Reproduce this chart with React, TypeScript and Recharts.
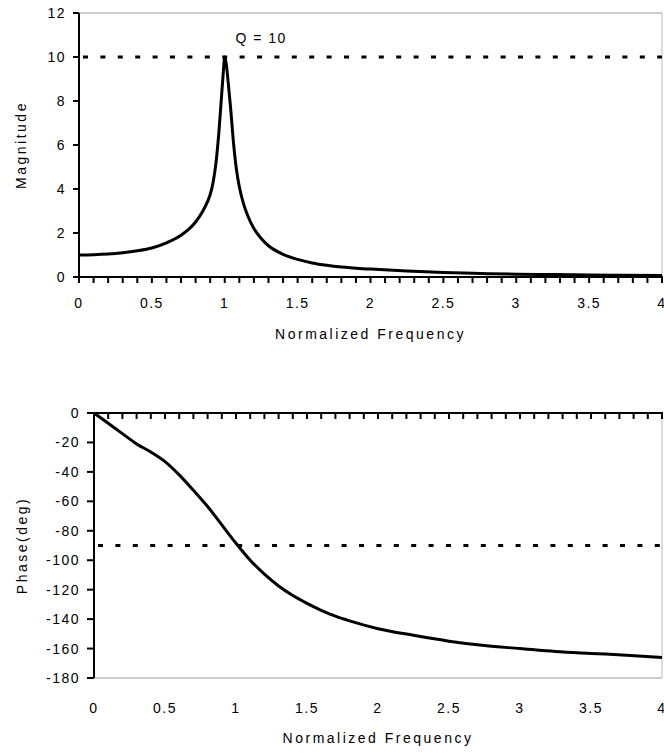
import { LineChart, Line, XAxis, YAxis, ReferenceLine, ReferenceDot } from 'recharts'

const FONT = '"Liberation Sans", Arial, Helvetica, sans-serif'

// magnitude response
const magFreq = [
  0, 0.1, 0.2, 0.3, 0.4, 0.5, 0.6, 0.7, 0.75, 0.8, 0.85, 0.88, 0.9, 0.92, 0.94, 0.96, 0.98, 0.99, 1.0,
  1.01, 1.02, 1.04, 1.06, 1.08, 1.1, 1.13, 1.16, 1.2, 1.25, 1.3, 1.4, 1.5, 1.6, 1.7, 1.8, 2.0, 2.25, 2.5,
  2.75, 3.0, 3.25, 3.5, 3.75, 4.0,
]
const magnitude = [
  1.0, 1.01, 1.04, 1.1, 1.19, 1.32, 1.55, 1.9, 2.15, 2.5, 3.0, 3.4, 3.75, 4.3, 5.2, 6.6, 8.4, 9.3, 10,
  9.7, 9.1, 7.7, 6.1, 4.9, 4.1, 3.3, 2.75, 2.2, 1.75, 1.42, 1.03, 0.8, 0.64, 0.53, 0.45, 0.36, 0.27, 0.2,
  0.16, 0.13, 0.11, 0.09, 0.08, 0.07,
]

// phase response (deg)
const phaseFreq = [
  0, 0.1, 0.2, 0.3, 0.4, 0.5, 0.6, 0.7, 0.8, 0.9, 1.0, 1.1, 1.2, 1.3, 1.4, 1.5, 1.6, 1.7, 1.8, 2.0, 2.25,
  2.5, 2.75, 3.0, 3.25, 3.5, 3.75, 4.0,
]
const phase = [
  0, -7, -14, -21, -26.5, -33, -42, -52.5, -63.5, -76, -88.5, -100, -109.5, -117.5, -124, -129.3, -134,
  -138, -141.2, -146.5, -151, -155, -158, -160, -162, -163.3, -164.5, -166,
]

const magTicks = [0, 2, 4, 6, 8, 10, 12]
const phaseTicks = [-180, -160, -140, -120, -100, -80, -60, -40, -20, 0]
const xLabels = [0, 0.5, 1, 1.5, 2, 2.5, 3, 3.5, 4]
const minorTicks = Array.from({ length: 41 }, (_, i) => i / 10)

const Q_VALUE = 10
const PHASE_REF = -90
const qLabelX = 1.25
const qLabelY = 10.85

// phase plot height in px, used to drop the x labels from the top axis to the bottom
const PHASE_PLOT_H = 265

const magData = magFreq.map((f, i) => ({ f, v: magnitude[i] }))
const phaseData = phaseFreq.map((f, i) => ({ f, v: phase[i] }))

const isLabel = (v: number) => xLabels.includes(v)

const titleStyle = { textAnchor: 'middle', letterSpacing: '2.5px', fill: '#000', fontSize: 14 } as any
const dotted = { stroke: '#000', strokeWidth: 3, strokeDasharray: '5 12.4', strokeDashoffset: 13.4 }

// x ticks: small mark below the axis every 0.1, label every 0.5 (labelGap px under the axis)
function XTick(props: any) {
  const { x, y, payload, labelGap } = props
  const v = payload.value
  return (
    <g>
      <rect x={x - 1} y={y - 1} width={2} height={7} fill="#000" />
      {isLabel(v) && (
        <text x={x} y={y + labelGap} dy="0.71em" textAnchor="middle" fill="#000" fontSize={14}>
          {String(v)}
        </text>
      )}
    </g>
  )
}

function YTick(props: any) {
  const { x, y, payload, len } = props
  return (
    <g>
      <rect x={x - len} y={y - 1} width={len} height={2} fill="#000" />
      <text x={x - len - 7} y={y} dy="0.355em" textAnchor="end" fill="#000" fontSize={14}>
        {String(payload.value)}
      </text>
    </g>
  )
}

export default function App() {
  return (
    <div
      style={{
        position: 'absolute',
        left: 0,
        top: 0,
        width: 664,
        height: 753,
        background: '#fff',
        fontFamily: FONT,
        letterSpacing: '1.5px',
      }}
    >
      <LineChart width={664} height={360} data={magData} margin={{ top: 13, right: 2, bottom: 0, left: 0 }}>
        <XAxis
          dataKey="f"
          type="number"
          domain={[0, 4]}
          ticks={minorTicks}
          interval={0}
          tick={<XTick labelGap={21} />}
          tickLine={false}
          tickSize={0}
          tickMargin={0}
          height={83}
          axisLine={{ stroke: '#000', strokeWidth: 2 }}
          label={{ value: 'Normalized Frequency', position: 'insideBottom', offset: 21, style: titleStyle }}
        />
        <YAxis
          type="number"
          domain={[0, 12]}
          ticks={magTicks}
          interval={0}
          width={79}
          tick={<YTick len={6} />}
          tickLine={false}
          tickSize={0}
          tickMargin={0}
          axisLine={{ stroke: '#000', strokeWidth: 2 }}
          label={{ value: 'Magnitude', angle: -90, position: 'insideLeft', offset: 21, style: titleStyle }}
        />
        <ReferenceLine y={12} stroke="#999" strokeWidth={1} />
        <ReferenceLine x={4} stroke="#bbb" strokeWidth={1} />
        <ReferenceLine y={Q_VALUE} {...dotted} />
        <Line
          type="monotone"
          dataKey="v"
          stroke="#000"
          strokeWidth={3}
          dot={false}
          isAnimationActive={false}
        />
        <ReferenceDot
          x={qLabelX}
          y={qLabelY}
          r={0}
          fill="none"
          stroke="none"
          label={{ value: `Q = ${Q_VALUE}`, position: 'center', fill: '#000', fontSize: 14 }}
        />
      </LineChart>

      <div style={{ position: 'absolute', left: 0, top: 380 }}>
        <LineChart width={664} height={373} data={phaseData} margin={{ top: 32, right: 2, bottom: 75, left: 0 }}>
          <XAxis
            dataKey="f"
            type="number"
            domain={[0, 4]}
            orientation="top"
            height={1}
            ticks={minorTicks}
            interval={0}
            tick={<XTick labelGap={PHASE_PLOT_H + 25} />}
            tickLine={false}
            tickSize={0}
            tickMargin={0}
            axisLine={{ stroke: '#000', strokeWidth: 2 }}
          />
          <YAxis
            type="number"
            domain={[-180, 0]}
            ticks={phaseTicks}
            interval={0}
            width={94}
            tick={<YTick len={7} />}
            tickLine={false}
            tickSize={0}
            tickMargin={0}
            axisLine={{ stroke: '#000', strokeWidth: 2 }}
            label={{ value: 'Phase(deg)', angle: -90, position: 'insideLeft', offset: 22, style: titleStyle }}
          />
          <ReferenceLine
            y={-180}
            stroke="#999"
            strokeWidth={1}
            label={{ value: 'Normalized Frequency', position: 'bottom', offset: 55, style: titleStyle }}
          />
          <ReferenceLine x={4} stroke="#bbb" strokeWidth={1} />
          <ReferenceLine y={PHASE_REF} {...dotted} />
          <Line
            type="monotone"
            dataKey="v"
            stroke="#000"
            strokeWidth={3}
            dot={false}
            isAnimationActive={false}
          />
        </LineChart>
      </div>
    </div>
  )
}
